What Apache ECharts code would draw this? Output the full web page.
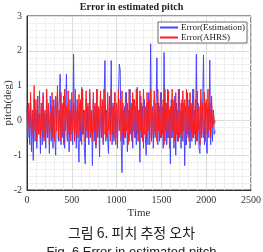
<!DOCTYPE html>
<html><head><meta charset="utf-8">
<script src="https://cdn.jsdelivr.net/npm/echarts@6/dist/echarts.min.js"></script>
<style>html,body{margin:0;padding:0;background:#fff}#c{width:263px;height:252px}</style>
</head><body><div id="c"></div>
<script>
var timeStep = 10;
var estimationErr = [
0.4,-0.5,0.3,-0.7,0.5,-0.9,0.2,-1.15,0.6,-0.6,
0.3,-0.8,0.7,-0.4,0.2,-0.95,0.5,-0.7,0.8,-0.5,
0.2,-0.8,0.6,-0.5,0.3,-0.95,0.7,-0.6,0.4,-0.8,
0.6,-0.5,-1.0,0.3,0.8,-0.6,0.5,1.33,-0.7,0.4,
-0.5,0.7,-0.8,0.3,1.33,-0.6,0.5,-0.9,0.6,-0.4,
0.3,-0.7,1.9,-0.5,0.4,-0.8,0.6,-0.5,-1.2,0.5,
-0.6,0.95,-0.4,0.3,-0.8,-1.25,0.6,-0.5,0.4,-0.7,
0.8,-0.5,0.3,-1.3,0.6,-0.6,0.4,-0.8,0.9,-0.5,
0.3,-1.05,0.7,-0.5,0.4,-0.7,0.6,1.72,-0.6,0.3,
-0.5,-0.95,0.7,-0.4,1.72,-0.7,0.5,-0.6,0.8,-0.5,
0.4,-0.8,0.6,1.62,1.45,-0.6,-1.5,0.5,-0.7,0.4,
-0.5,0.8,-0.9,0.3,-0.6,0.9,-0.4,0.5,-0.8,0.6,
-0.5,0.4,-0.7,0.95,-0.6,0.3,-1.2,0.7,-0.5,0.4,
-0.8,0.6,-0.4,-1.0,0.5,-0.7,0.8,-0.5,2.2,-0.6,
0.4,-0.8,0.6,-0.5,0.3,1.8,-0.7,0.5,-0.6,0.8,
-0.5,0.4,-0.8,1.95,-0.6,0.5,-0.7,0.9,-0.5,0.3,
-1.25,0.6,-0.5,0.4,-0.8,0.7,-1.0,0.5,-0.6,0.9,
-0.5,0.3,-0.8,0.6,-0.6,0.5,-1.3,0.4,-0.7,0.8,
-0.5,0.6,-0.8,0.4,-0.6,0.9,-0.5,0.3,-0.7,1.9,
-0.6,0.5,-0.8,-0.95,0.6,-0.5,0.4,1.88,-0.7,0.5,
-0.6,-0.95,0.4,-0.5,1.73,-0.7,0.5,-0.6,0.3,-0.4,-0.3
];
var ahrsErr = [
0.1,-0.3,0.5,-0.2,0.8,-0.4,0.3,-0.5,1.0,-0.3,
0.6,-0.6,0.2,-0.4,0.85,-0.5,0.4,-0.3,0.7,-0.6,
0.3,-0.4,0.9,-0.2,0.5,-0.7,0.2,-0.3,0.8,-0.5,
0.4,-0.6,0.7,-0.3,1.0,-0.5,0.3,-0.6,0.8,-0.4,
0.5,-0.7,0.9,-0.3,0.4,-0.5,0.85,-0.4,0.3,-0.6,
0.8,-0.3,0.5,-0.6,0.9,-0.4,0.3,-0.5,0.75,-0.3,
0.6,-0.7,0.9,-0.4,0.3,-0.6,0.85,-0.3,0.5,-0.5,
0.9,-0.4,0.3,-0.6,0.8,-0.3,0.5,-0.7,0.9,-0.4,
0.4,-0.5,0.85,-0.3,0.6,-0.6,0.9,-0.4,0.3,-0.5,
0.8,-0.3,0.5,-0.6,0.9,-0.4,0.4,-0.5,0.8,-0.7,
0.5,-0.4,0.9,-0.3,0.6,-0.6,0.85,-0.4,0.3,-0.5,
0.8,-0.3,0.5,-0.7,0.9,-0.4,0.4,-0.6,0.8,-0.3,
0.6,-0.5,0.9,-0.4,0.3,-0.6,0.85,-0.3,0.5,-0.6,
0.9,-0.4,0.4,-0.5,0.8,-0.3,0.6,-0.7,0.9,-0.4,
0.3,-0.5,0.85,-0.4,0.5,-0.6,0.9,-0.3,0.4,-0.5,
0.8,-0.4,0.6,-0.7,0.9,-0.3,0.5,-0.5,0.85,-0.8,
0.4,-0.5,0.9,-0.3,0.6,-0.6,0.8,-0.4,0.3,-0.6,
0.9,-0.4,0.5,-0.5,0.85,-0.3,0.6,-0.7,0.9,-0.4,
0.4,-0.6,0.8,-0.3,0.5,-0.5,0.9,-0.4,0.6,-0.6,
0.85,-0.3,0.4,-0.7,0.9,-0.4,0.5,-0.5,0.8,-0.6,
0.6,-0.4,0.9,-0.3,0.5,-0.5,0.7,-0.2,0.3,-0.1,0.0
];
var seriesNames = ['Error(Estimation)', 'Error(AHRS)'];
var titleText = 'Error in estimated pitch';
var xName = 'Time', yName = 'pitch(deg)';
var captionKo = '그림 6. 피치 추정 오차';
var captionEn = 'Fig. 6 Error in estimated pitch';

function pairs(arr){ return arr.map(function(v,i){ return [i*timeStep, v]; }); }
var serif = '"Liberation Serif","Times New Roman",serif';
var chart = echarts.init(document.getElementById('c'), null, {renderer:'canvas'});
chart.setOption({
  animation:false,
  backgroundColor:'#fff',
  title:{text:titleText, left:'center', top:2, padding:0, textStyle:{fontFamily:serif, fontWeight:'bold', fontSize:10, color:'#222'}},
  legend:{data:seriesNames, orient:'vertical', right:16, top:22, itemWidth:18, itemHeight:2, itemGap:1,
    icon:'rect', backgroundColor:'#fff', borderColor:'#444', borderWidth:0.8, padding:[1,2,1,2],
    textStyle:{fontFamily:serif, fontSize:9, color:'#222', padding:[0,0,0,-2]}},
  grid:{left:27, right:12, top:16, bottom:62, containLabel:false, outerBoundsMode:'none', show:true, borderColor:'#333', borderWidth:1, backgroundColor:'#fff'},
  xAxis:{type:'value', min:0, max:2500, interval:500, name:xName, nameLocation:'middle', nameGap:18, nameMoveOverlap:false,
    nameTextStyle:{fontFamily:serif, fontSize:11, color:'#333'},
    axisLine:{show:true, onZero:false, lineStyle:{color:'#333'}}, axisTick:{show:false},
    axisLabel:{fontFamily:serif, fontSize:10, color:'#333', margin:5, formatter:function(v){return String(v);}},
    splitLine:{show:true, lineStyle:{color:'#dcdcdc', width:1}},
    minorTick:{show:false, splitNumber:5}, minorSplitLine:{show:true, lineStyle:{color:'#efefef', width:1}}},
  yAxis:{type:'value', min:-2, max:3, interval:1, name:yName, nameLocation:'middle', nameGap:13, nameMoveOverlap:false,
    nameTextStyle:{fontFamily:serif, fontSize:11, color:'#333'},
    axisLine:{show:true, onZero:false, lineStyle:{color:'#333'}}, axisTick:{show:false},
    axisLabel:{fontFamily:serif, fontSize:10, color:'#333', margin:5},
    splitLine:{show:true, lineStyle:{color:'#dcdcdc', width:1}},
    minorTick:{show:false, splitNumber:5}, minorSplitLine:{show:true, lineStyle:{color:'#efefef', width:1}}},
  series:[
    {name:seriesNames[0], type:'line', data:pairs(estimationErr), showSymbol:false, symbol:'none',
      lineStyle:{color:'#4646ff', width:1}, itemStyle:{color:'#4646ff'}},
    {name:seriesNames[1], type:'line', data:pairs(ahrsErr), showSymbol:false, symbol:'none',
      lineStyle:{color:'#ff1e1e', width:1}, itemStyle:{color:'#ff1e1e'}}
  ],
  graphic:[
    {type:'text', left:'center', top:226, style:{text:captionKo, font:'14px "Noto Sans CJK KR", sans-serif', fill:'#222'}},
    {type:'text', left:'center', top:246, style:{text:captionEn, font:'13px "Liberation Sans", Arial, sans-serif', fill:'#222'}}
  ]
});
</script></body></html>
